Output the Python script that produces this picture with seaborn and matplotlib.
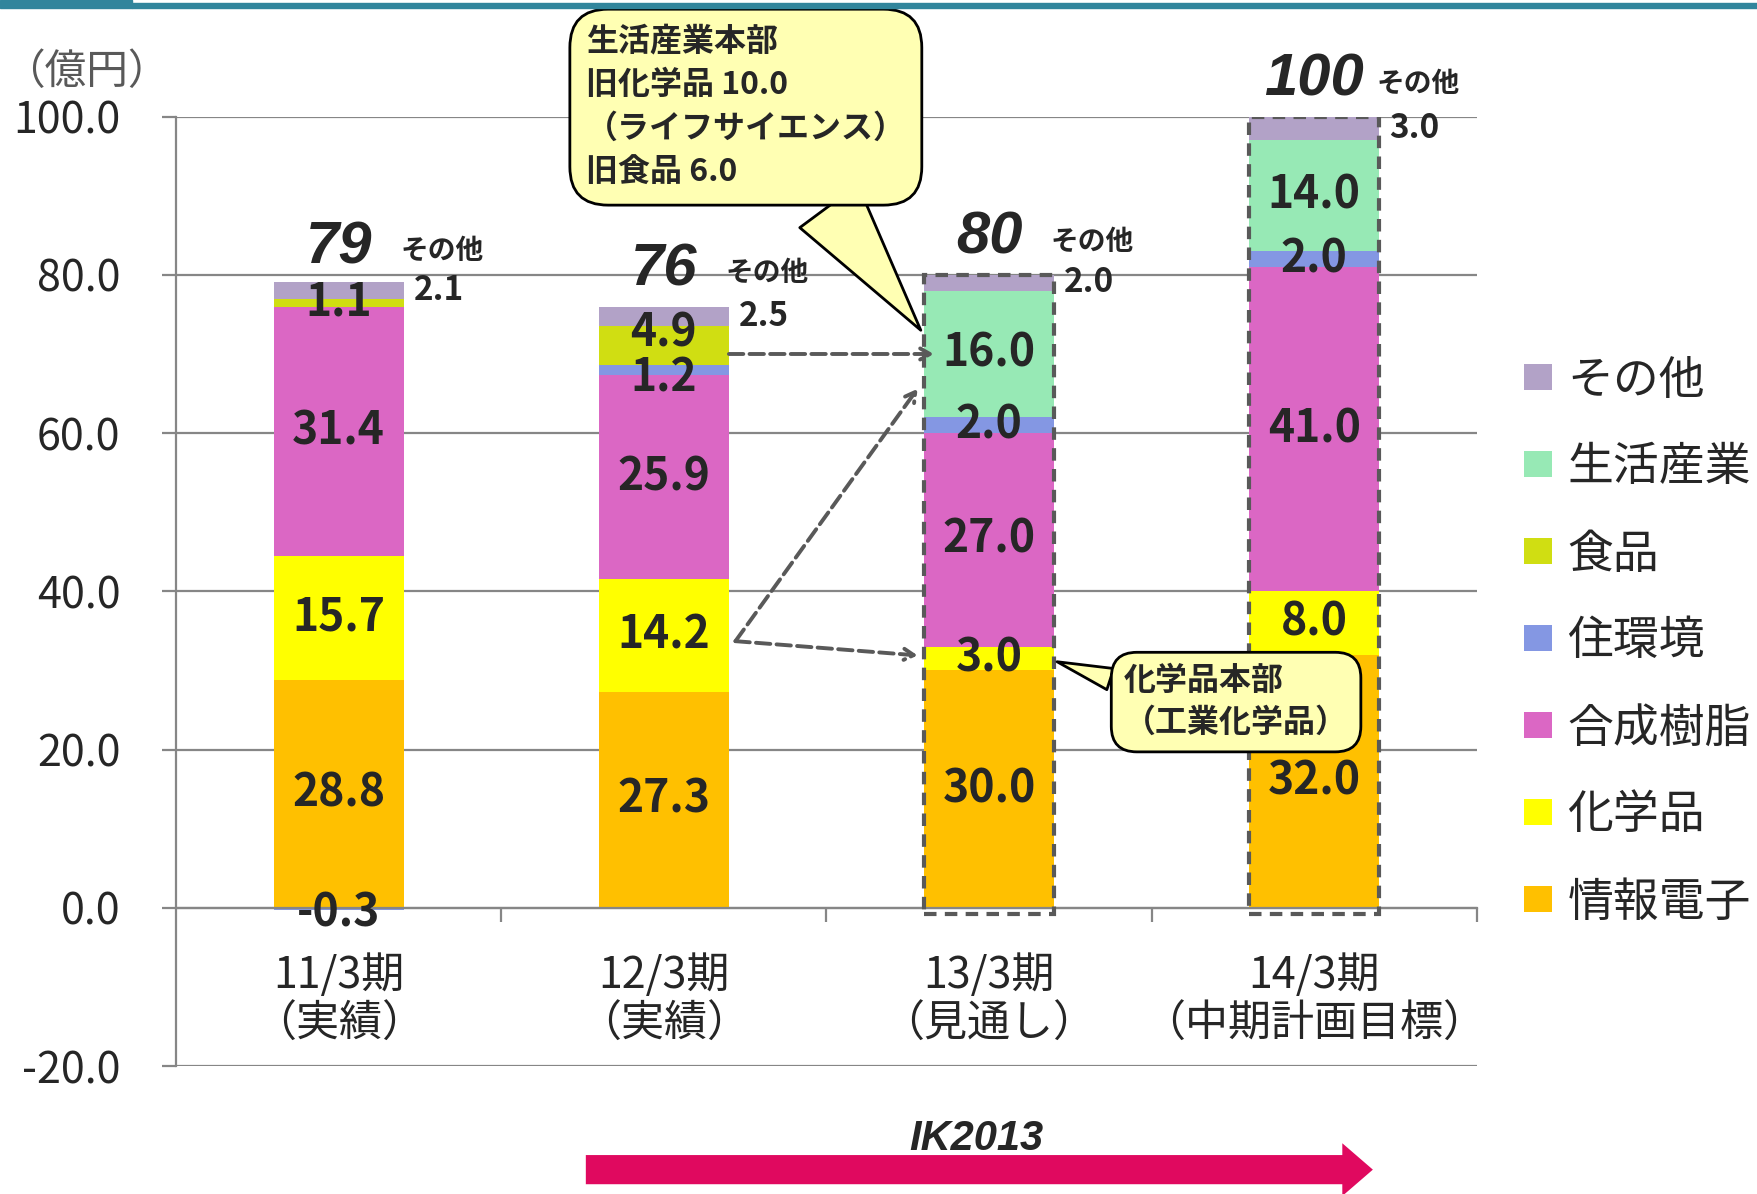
import pandas as pd
import seaborn as sns
import matplotlib.pyplot as plt
from matplotlib.patches import Rectangle, Patch
from matplotlib.ticker import FormatStrFormatter

# === DATI (億円) ===
periods = ['11/3期\n（実績）', '12/3期\n（実績）', '13/3期\n（見通し）', '14/3期\n（中期計画目標）']
segments = ['情報電子', '化学品', '合成樹脂', '住環境', '食品', '生活産業', 'その他']
colors = ['#FFC000', '#FFFF00', '#DB67C4', '#8497E3', '#D0DE12', '#97E9B5', '#B2A2C7']

info_elec = [28.8, 27.3, 30.0, 32.0]
chemicals = [15.7, 14.2, 3.0, 8.0]
resins = [31.4, 25.9, 27.0, 41.0]
housing = [-0.3, 1.2, 2.0, 2.0]
foods = [1.1, 4.9, 0.0, 0.0]
living = [0.0, 0.0, 16.0, 14.0]
others = [2.1, 2.5, 2.0, 3.0]

df = pd.DataFrame(dict(zip(segments, [info_elec, chemicals, resins, housing, foods, living, others])))
df['period'] = periods
pos = df[segments].clip(lower=0)
neg = df[segments].clip(upper=0)
tops = pos.cumsum(axis=1)
bottoms = tops - pos
totals = df[segments].sum(axis=1)

# piccoli spostamenti delle etichette sovrapposte
nudge = {(1, '食品'): 1.6, (1, '住環境'): -1.1}

# === STILE ===
sns.set_style('white')
plt.rcParams['font.family'] = ['Noto Sans CJK JP', 'DejaVu Sans']
plt.rcParams['axes.unicode_minus'] = False
num_font = ['Liberation Sans Narrow', 'Liberation Sans']
grey = '#868686'

fig = plt.figure(figsize=(17.57, 11.94), dpi=100)
ax = fig.add_axes([0.1002, 0.1072, 0.7404, 0.7951])

# barre impilate: cumulative dal alto verso il basso
for seg, col in reversed(list(zip(segments, colors))):
    sns.barplot(x=df['period'], y=tops[seg], color=col, saturation=1, width=0.4,
                errorbar=None, linewidth=0, ax=ax)
sns.barplot(x=df['period'], y=neg['住環境'], color=colors[3], saturation=1, width=0.4,
            errorbar=None, linewidth=0, ax=ax)

# === ASSI ===
ax.set_ylim(-20, 100)
ax.set_xlim(-0.5, 3.5)
ax.set_yticks(range(-20, 101, 20))
ax.yaxis.set_major_formatter(FormatStrFormatter('%.1f'))
ax.set_xlabel('')
ax.set_ylabel('')
ax.set_axisbelow(True)
ax.yaxis.grid(True, color=grey, lw=1.6)
ax.xaxis.grid(False)
for s in ['top', 'right']:
    ax.spines[s].set_visible(False)
ax.spines['bottom'].set_position(('data', 0))
ax.spines['bottom'].set_color(grey)
ax.spines['bottom'].set_linewidth(1.6)
ax.spines['left'].set_color(grey)
ax.spines['left'].set_linewidth(1.6)
ax.tick_params(axis='y', length=10, width=1.6, color=grey, pad=30, labelsize=31, left=True)
ax.set_xticks([0.5, 1.5, 2.5, 3.5], minor=True)
ax.tick_params(axis='x', which='major', length=0, pad=33, labelsize=31)
ax.tick_params(axis='x', which='minor', length=10, width=1.6, color=grey, bottom=True)
for lbl in ax.get_xticklabels():
    lbl.set_linespacing(1.15)
fig.text(0.002, 1 - 72 / 1194, '（億円）', fontsize=30, color='#595959', va='center')

# === ETICHETTE ===
for i in range(len(periods)):
    for seg in segments[:-1]:
        v = df.loc[i, seg]
        if v == 0:
            continue
        y = bottoms.loc[i, seg] + v / 2 if v > 0 else v - 0.4
        y += nudge.get((i, seg), 0)
        ax.text(i, y, f'{v:.1f}', ha='center', va='center', fontsize=32, fontweight='bold', zorder=5)
    ax.text(i + 0.23, tops.loc[i, 'その他'] - others[i] / 2, f'{others[i]:.1f}',
            ha='left', va='center', fontsize=24, fontweight='bold')
    ax.text(i + 0.19, totals[i] + 4.2, 'その他', ha='left', va='center', fontsize=20, fontweight='bold')
    ax.text(i, totals[i] + 4.6, f'{round(totals[i]):d}', ha='center', va='center', fontsize=43,
            fontweight='bold', fontstyle='italic', family=num_font)

# contorno tratteggiato per previsione / obiettivo
for i in (2, 3):
    ax.add_patch(Rectangle((i - 0.2, -0.8), 0.4, totals[i] + 0.8, fill=False, ls=(0, (3, 2)),
                           ec='#595959', lw=3, zorder=4))

# frecce tratteggiate
arrow_kw = dict(arrowstyle='->,head_length=0.7,head_width=0.4', color='#595959', lw=2.8,
                ls='--', shrinkA=0, shrinkB=0)
ax.annotate('', xy=(1.83, 70.0), xytext=(1.2, 70.0), arrowprops=arrow_kw)
ax.annotate('', xy=(1.78, 65.6), xytext=(1.22, 33.7), arrowprops=arrow_kw)
ax.annotate('', xy=(1.78, 31.9), xytext=(1.22, 33.7), arrowprops=arrow_kw)

# fumetti
ax.annotate('生活産業本部\n旧化学品 10.0\n（ライフサイエンス）\n旧食品 6.0',
            xy=(1.79, 73.0), xytext=(0.76, 101.2), ha='left', va='center', fontsize=23,
            fontweight='bold', linespacing=1.48, annotation_clip=False, zorder=6,
            bbox=dict(boxstyle='round,pad=0.5,rounding_size=1.2', fc='#FFFFB3', ec='black', lw=2),
            arrowprops=dict(arrowstyle='wedge,tail_width=2.6,shrink_factor=0.5', fc='#FFFFB3',
                            ec='black', lw=2, mutation_scale=20, shrinkA=0, shrinkB=0,
                            relpos=(0.72, 0.0)))
ax.annotate('化学品本部\n（工業化学品）',
            xy=(2.209, 31.1), xytext=(2.415, 26.0), ha='left', va='center', fontsize=23,
            fontweight='bold', linespacing=1.4, annotation_clip=False, zorder=6,
            bbox=dict(boxstyle='round,pad=0.4,rounding_size=0.8', fc='#FFFFB3', ec='black', lw=2),
            arrowprops=dict(arrowstyle='wedge,tail_width=0.8,shrink_factor=0.5', fc='#FFFFB3',
                            ec='black', lw=2, mutation_scale=20, shrinkA=0, shrinkB=0,
                            relpos=(0.0, 0.75)))

# freccia IK2013
ax.annotate('', xy=(3.18, -33.1), xytext=(0.76, -33.1), annotation_clip=False,
            arrowprops=dict(arrowstyle='simple,head_length=1.1,head_width=1.9,tail_width=1.05',
                            fc='#E0095F', ec='none', mutation_scale=20, shrinkA=0, shrinkB=0))
ax.text(1.96, -29.2, 'IK2013', ha='center', va='center', fontsize=30, fontweight='bold',
        fontstyle='italic', family=num_font)

# linea in alto
fig.add_artist(Rectangle((0, 1 - 8 / 1194), 132 / 1757, 8 / 1194, transform=fig.transFigure,
                         color='#31859C'))
fig.add_artist(Rectangle((132 / 1757, 1 - 8 / 1194), 1, 5 / 1194, transform=fig.transFigure,
                         color='#31859C'))

# legenda
handles = [Patch(facecolor=c, edgecolor='none', label=s) for s, c in zip(segments, colors)][::-1]
fig.legend(handles=handles, loc='upper left', bbox_to_anchor=(1524 / 1757, 1 - 356 / 1194),
           frameon=False, fontsize=33, handlelength=0.6, handleheight=0.5, handletextpad=0.35,
           labelspacing=0.84, borderpad=0, borderaxespad=0)

fig.savefig('out.png', dpi=100)
